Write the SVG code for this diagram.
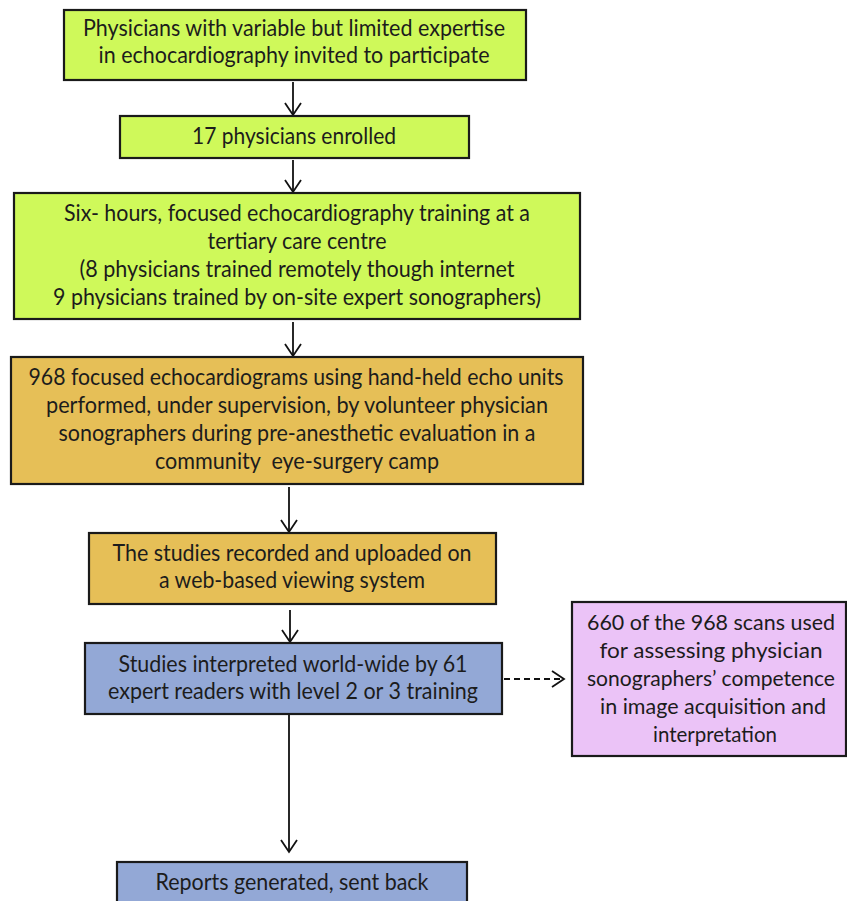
<svg xmlns="http://www.w3.org/2000/svg" width="847" height="901" viewBox="0 0 847 901">
<defs>
<style>
.box{stroke:#1a1a1a;stroke-width:2.2}
.g{fill:#CFF95A}
.o{fill:#E6BF57}
.b{fill:#93A8D6}
.p{fill:#EBC3F7}
text{font-family:Lato,"Open Sans","Liberation Sans",sans-serif;font-size:22.5px;fill:#1c1c1c;text-anchor:middle}
#n7 text{font-size:21.5px}
.c{stroke:#111;stroke-width:1.8;fill:none}
.d{stroke:#111;stroke-width:1.8;fill:none;stroke-dasharray:6 4}
</style>
<marker id="ah" markerWidth="20" markerHeight="20" viewBox="0 0 20 20" refX="17" refY="10" orient="auto" markerUnits="userSpaceOnUse">
<path d="M5 2 L17 10 L5 18" fill="none" stroke="#111" stroke-width="1.8"/>
</marker>
</defs>
<rect width="847" height="901" fill="#fff"/>
<g id="connectors">
<line class="c" x1="293" y1="82" x2="293" y2="115" marker-end="url(#ah)"/>
<line class="c" x1="293" y1="160" x2="293" y2="192" marker-end="url(#ah)"/>
<line class="c" x1="293" y1="322" x2="293" y2="356" marker-end="url(#ah)"/>
<line class="c" x1="289" y1="487" x2="289" y2="532" marker-end="url(#ah)"/>
<line class="c" x1="290" y1="610" x2="290" y2="642" marker-end="url(#ah)"/>
<line class="c" x1="289" y1="715" x2="289" y2="852" marker-end="url(#ah)"/>
<line class="d" x1="504" y1="679" x2="564" y2="679" marker-end="url(#ah)"/>
</g>
<g id="n1">
<rect class="box g" x="64" y="10" width="462" height="70"/>
<text x="294" y="36" textLength="422" lengthAdjust="spacingAndGlyphs">Physicians with variable but limited expertise</text>
<text x="294" y="63" textLength="391" lengthAdjust="spacingAndGlyphs">in echocardiography invited to participate</text>
</g>
<g id="n2">
<rect class="box g" x="120" y="116" width="349" height="42"/>
<text x="294" y="144" textLength="204" lengthAdjust="spacingAndGlyphs">17 physicians enrolled</text>
</g>
<g id="n3">
<rect class="box g" x="14" y="193" width="566" height="126"/>
<text x="297" y="221" textLength="466" lengthAdjust="spacingAndGlyphs">Six- hours, focused echocardiography training at a</text>
<text x="297" y="249" textLength="179" lengthAdjust="spacingAndGlyphs">tertiary care centre</text>
<text x="297" y="277" textLength="435" lengthAdjust="spacingAndGlyphs">(8 physicians trained remotely though internet</text>
<text x="297" y="305" textLength="488" lengthAdjust="spacingAndGlyphs">9 physicians trained by on-site expert sonographers)</text>
</g>
<g id="n4">
<rect class="box o" x="11" y="357" width="572" height="127"/>
<text x="296" y="385" textLength="535" lengthAdjust="spacingAndGlyphs">968 focused echocardiograms using hand-held echo units</text>
<text x="297" y="413" textLength="502" lengthAdjust="spacingAndGlyphs">performed, under supervision, by volunteer physician</text>
<text x="297" y="441" textLength="477" lengthAdjust="spacingAndGlyphs">sonographers during pre-anesthetic evaluation in a</text>
<text x="297" y="469" textLength="284" lengthAdjust="spacingAndGlyphs" xml:space="preserve">community  eye-surgery camp</text>
</g>
<g id="n5">
<rect class="box o" x="89" y="533" width="407" height="71"/>
<text x="292" y="561" textLength="359" lengthAdjust="spacingAndGlyphs">The studies recorded and uploaded on</text>
<text x="292" y="588" textLength="266" lengthAdjust="spacingAndGlyphs">a web-based viewing system</text>
</g>
<g id="n6">
<rect class="box b" x="85" y="643" width="417" height="71"/>
<text x="293" y="672" textLength="349" lengthAdjust="spacingAndGlyphs">Studies interpreted world-wide by 61</text>
<text x="293" y="699" textLength="370" lengthAdjust="spacingAndGlyphs">expert readers with level 2 or 3 training</text>
</g>
<g id="n7">
<rect class="box p" x="572" y="602" width="274" height="154"/>
<text x="711" y="630" textLength="248" lengthAdjust="spacingAndGlyphs">660 of the 968 scans used</text>
<text x="711" y="658" textLength="223" lengthAdjust="spacingAndGlyphs">for assessing physician</text>
<text x="711" y="686" textLength="248" lengthAdjust="spacingAndGlyphs">sonographers’ competence</text>
<text x="713" y="714" textLength="226" lengthAdjust="spacingAndGlyphs">in image acquisition and</text>
<text x="715" y="742" textLength="124" lengthAdjust="spacingAndGlyphs">interpretation</text>
</g>
<g id="n8">
<rect class="box b" x="117" y="862" width="350" height="50"/>
<text x="292" y="890" textLength="273" lengthAdjust="spacingAndGlyphs">Reports generated, sent back</text>
</g>
</svg>
